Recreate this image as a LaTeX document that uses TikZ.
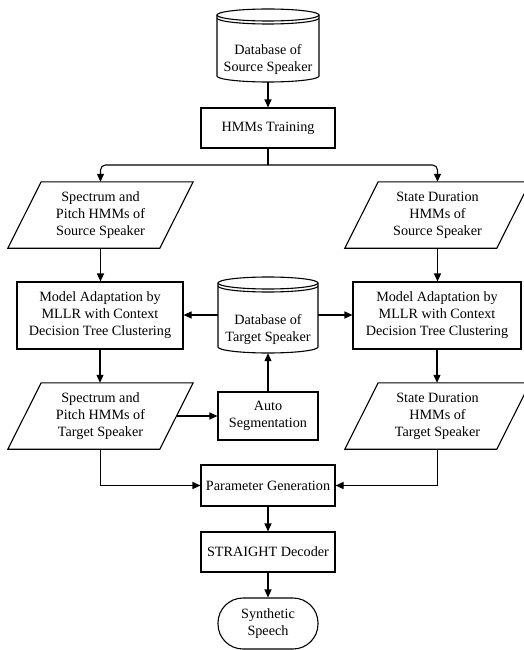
\documentclass[tikz,border=0pt]{standalone}
\usepackage{fontspec}
\setmainfont{Liberation Serif}
\usetikzlibrary{arrows.meta,calc}
\newcommand\mydbshape[4]{% cx, top centre y, bottom centre y, rx
  \draw[ln] (#1-#4,#2) -- (#1-#4,#3) arc[start angle=180,end angle=360,x radius=#4pt,y radius=6pt] -- (#1+#4,#2);
  \draw[ln] (#1,#2) ellipse[x radius=#4pt,y radius=6pt];
  \draw[ln] (#1-#4,#2+3) arc[start angle=180,end angle=360,x radius=#4pt,y radius=6pt];
}
\begin{document}
\begin{tikzpicture}[x=1pt,y=-1pt,
  every node/.style={font=\fontsize{14.2}{17}\selectfont, align=center, inner sep=0pt},
  ln/.style={line width=1.1pt},
  arr/.style={ln, -{Triangle[length=8pt,width=7pt]}},
  box/.style={draw, ln, rectangle},
  holder/.style={rectangle, draw=none},
]
\fill[white] (0,0) rectangle (524,650);
\useasboundingbox (0,0) rectangle (524,650);

% databases
\mydbshape{268}{15}{76}{51}
\node[holder, minimum width=102pt, minimum height=73pt] (srcdb) at (268,45.5) {};
\node (srcdbtxt) at (268,60) {Database of\\Source Speaker};

\mydbshape{268}{283}{347}{50}
\node[holder, minimum width=100pt, minimum height=76pt] (tdb) at (268,315) {};
\node (tdbtxt) at (268,330) {Database of\\Target Speaker};

% boxes
\node[box, minimum width=134pt, minimum height=40pt] (hmm) at (268,128) {HMMs Training};
\node[box, minimum width=166pt, minimum height=67pt] (madL) at (100,315.5) {Model Adaptation by\\MLLR with Context\\Decision Tree Clustering};
\node[box, minimum width=168pt, minimum height=67pt] (madR) at (437,315.5) {Model Adaptation by\\MLLR with Context\\Decision Tree Clustering};
\node[box, minimum width=100pt, minimum height=48pt] (auto) at (268,416) {Auto\\Segmentation};
\node[box, minimum width=134pt, minimum height=41pt] (pg) at (268,485.5) {Parameter Generation};
\node[box, minimum width=134pt, minimum height=40pt] (sd) at (268,552) {STRAIGHT Decoder};
\node[box, minimum width=100pt, minimum height=51pt, rounded corners=25pt] (ss) at (268,623.5) {Synthetic\\Speech};

% parallelograms
\node[holder, minimum width=185pt, minimum height=66pt] (psrc) at (100.5,215) {Spectrum and\\Pitch HMMs of\\Source Speaker};
\node[holder, minimum width=185pt, minimum height=66pt] (dsrc) at (437.5,215) {State Duration\\HMMs of\\Source Speaker};
\node[holder, minimum width=185pt, minimum height=66pt] (ptgt) at (100.5,416) {Spectrum and\\Pitch HMMs of\\Target Speaker};
\node[holder, minimum width=185pt, minimum height=66pt] (dtgt) at (437.5,416) {State Duration\\HMMs of\\Target Speaker};
\foreach \p in {psrc,dsrc,ptgt,dtgt}{
  \draw[ln] (\p.south west) -- ($(\p.south west)+(152,0)$) -- (\p.north east) -- ($(\p.north east)+(-152,0)$) -- cycle;
}

% connectors
\draw[arr] (srcdb.south) -- (hmm.north);
\coordinate (br) at (268,165);
\draw[ln] (hmm.south) -- (br);
\draw[arr, rounded corners=5pt] (br) -| (psrc.north);
\draw[arr, rounded corners=5pt] (br) -| (dsrc.north);
\draw[arr] (psrc.south) -- (psrc.south |- madL.north);
\draw[arr] (dsrc.south) -- (dsrc.south |- madR.north);
\draw[arr] (tdb.west) -- (tdb.west -| madL.east);
\draw[arr] (tdb.east) -- (tdb.east -| madR.west);
\draw[arr] (madL.south) -- (madL.south |- ptgt.north);
\draw[arr] (madR.south) -- (madR.south |- dtgt.north);
\coordinate (pout) at ($(ptgt.east)+(-16.5,0)$);
\draw[arr] (pout) -- (auto.west);
\draw[arr] (auto.north) -- (tdb.south);
\draw[arr] (ptgt.south) |- (pg.west);
\draw[arr] (dtgt.south) |- (pg.east);
\draw[arr] (pg.south) -- (sd.north);
\draw[arr] (sd.south) -- (ss.north);
\end{tikzpicture}
\end{document}
